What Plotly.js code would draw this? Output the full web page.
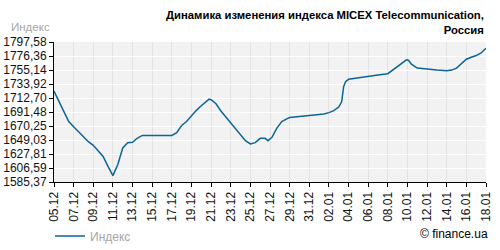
<!DOCTYPE html>
<html><head><meta charset="utf-8">
<script src="https://cdn.plot.ly/plotly-3.0.1.min.js"></script>
<style>html,body{margin:0;padding:0;background:#fff}#chart{width:500px;height:250px}</style>
</head><body><div id="chart"></div>
<script>
const dates = [
 '2013-12-05 00:00','2013-12-05 12:00','2013-12-06 00:00','2013-12-06 12:00','2013-12-07 00:00','2013-12-07 12:00',
 '2013-12-08 00:00','2013-12-08 12:00','2013-12-09 00:00','2013-12-09 12:00','2013-12-10 00:00','2013-12-10 12:00',
 '2013-12-11 00:00','2013-12-11 12:00','2013-12-12 00:00','2013-12-12 12:00','2013-12-13 00:00','2013-12-13 12:00',
 '2013-12-14 00:00','2013-12-15 00:00','2013-12-16 00:00','2013-12-17 00:00','2013-12-17 12:00','2013-12-18 00:00',
 '2013-12-18 12:00','2013-12-19 00:00','2013-12-19 12:00','2013-12-20 00:00','2013-12-20 12:00','2013-12-20 19:12',
 '2013-12-21 00:00','2013-12-21 12:00','2013-12-22 00:00','2013-12-22 12:00','2013-12-23 00:00','2013-12-23 12:00',
 '2013-12-24 00:00','2013-12-24 12:00','2013-12-25 00:00','2013-12-25 12:00','2013-12-26 00:00','2013-12-26 12:00',
 '2013-12-26 19:12','2013-12-27 04:48','2013-12-27 16:48','2013-12-28 04:48','2013-12-28 16:48','2013-12-29 00:00',
 '2013-12-30 00:00','2013-12-31 00:00','2014-01-01 00:00','2014-01-01 12:00','2014-01-02 00:00','2014-01-02 12:00',
 '2014-01-03 00:00','2014-01-03 07:12','2014-01-03 12:00','2014-01-03 16:48','2014-01-04 00:00','2014-01-05 00:00',
 '2014-01-06 00:00','2014-01-07 00:00','2014-01-08 00:00','2014-01-08 12:00','2014-01-09 00:00','2014-01-09 12:00',
 '2014-01-09 21:36','2014-01-10 02:24','2014-01-10 09:36','2014-01-11 00:00','2014-01-12 00:00','2014-01-13 00:00',
 '2014-01-14 00:00','2014-01-14 12:00','2014-01-15 00:00','2014-01-15 12:00','2014-01-16 00:00','2014-01-16 12:00',
 '2014-01-17 00:00','2014-01-17 12:00','2014-01-18 00:00'
];
const values = [
 1723,1707,1692,1677,1669,1661.5,
 1654,1646.5,1641,1633,1624,1609,
 1595,1612,1637,1645,1645.5,1652,
 1656,1656,1656,1656,1660,1671,
 1677,1686,1694,1701,1708,1711,
 1710,1704,1693,1684,1675,1666,
 1657,1648,1643,1645,1651.5,1651.5,
 1648,1653,1667,1677,1681,1683,
 1684.5,1686,1687.5,1688.5,1690.5,1693.5,
 1699,1707,1730,1737.5,1741,1743.5,
 1746,1747.5,1749.5,1755,1761,1767,
 1770.5,1770,1764,1758,1756,1755,
 1754,1755,1758,1765,1771.5,1774.5,
 1777,1781,1788
];
const xTickVals = ['2013-12-05','2013-12-07','2013-12-09','2013-12-11','2013-12-13','2013-12-15','2013-12-17','2013-12-19',
 '2013-12-21','2013-12-23','2013-12-25','2013-12-27','2013-12-29','2013-12-31','2014-01-02','2014-01-04','2014-01-06',
 '2014-01-08','2014-01-10','2014-01-12','2014-01-14','2014-01-16','2014-01-18'];
const xTickText = ['05.12','07.12','09.12','11.12','13.12','15.12','17.12','19.12','21.12','23.12','25.12','27.12','29.12',
 '31.12','02.01','04.01','06.01','08.01','10.01','12.01','14.01','16.01','18.01'];
const yTickVals = [1585.37,1606.59,1627.81,1649.03,1670.25,1691.48,1712.70,1733.92,1755.14,1776.36,1797.58];
const yTickText = ['1585,37','1606,59','1627,81','1649,03','1670,25','1691,48','1712,70','1733,92','1755,14','1776,36','1797,58'];
const seriesName = 'Индекс';
const titleText = 'Динамика изменения индекса MICEX Telecommunication,<br>Россия';

const font = 'Liberation Sans, Arial, sans-serif';
Plotly.newPlot('chart', [{
  x: dates, y: values, type: 'scatter', mode: 'lines', name: seriesName,
  line: {color: '#0b6597', width: 1.5}
}], {
  width: 500, height: 250,
  margin: {l: 54, r: 14, t: 42, b: 68},
  paper_bgcolor: '#ffffff', plot_bgcolor: '#f2f2f2',
  font: {family: font, size: 12, color: '#111'},
  xaxis: {type: 'date', range: ['2013-12-05', '2014-01-18'], tickvals: xTickVals, ticktext: xTickText,
    tickangle: -90, tickfont: {size: 12, color: '#111'}, showgrid: true, gridcolor: '#e2e2e2', gridwidth: 1,
    showline: true, linecolor: '#000', linewidth: 1, ticks: 'outside', ticklen: 4, tickcolor: '#000', zeroline: false, fixedrange: true},
  yaxis: {range: [1585.37, 1797.58], tickvals: yTickVals, ticktext: yTickText, tickfont: {size: 12, color: '#111'},
    showgrid: true, gridcolor: '#ffffff', gridwidth: 1, showline: true, linecolor: '#000', linewidth: 1,
    ticks: 'outside', ticklen: 4, tickcolor: '#000', zeroline: false, fixedrange: true},
  showlegend: true,
  legend: {orientation: 'h', xref: 'container', yref: 'container', x: 0.1, y: 0.056, xanchor: 'left', yanchor: 'middle',
    font: {size: 12, color: '#a6a6a6'}, bgcolor: 'rgba(0,0,0,0)'},
  annotations: [
    {text: '<b>' + titleText.replace('<br>', '</b><br><b>') + '</b>', xref: 'paper', yref: 'paper', x: 1.0, y: (182 - 7) / 140,
     xanchor: 'right', yanchor: 'top', align: 'right', showarrow: false,
     font: {family: font, size: 11.3, color: '#000'}},
    {text: seriesName, xref: 'paper', yref: 'paper', x: (52 - 54) / 432, y: (182 - 27) / 140, xanchor: 'right', yanchor: 'middle',
     showarrow: false, font: {family: font, size: 11.5, color: '#a6a6a6'}},
    {text: '© finance.ua', xref: 'paper', yref: 'paper', x: (490 - 54) / 432, y: (182 - 234) / 140, xanchor: 'right', yanchor: 'middle',
     showarrow: false, font: {family: font, size: 12, color: '#000'}}
  ]
}, {displayModeBar: false, staticPlot: true});
</script></body></html>
